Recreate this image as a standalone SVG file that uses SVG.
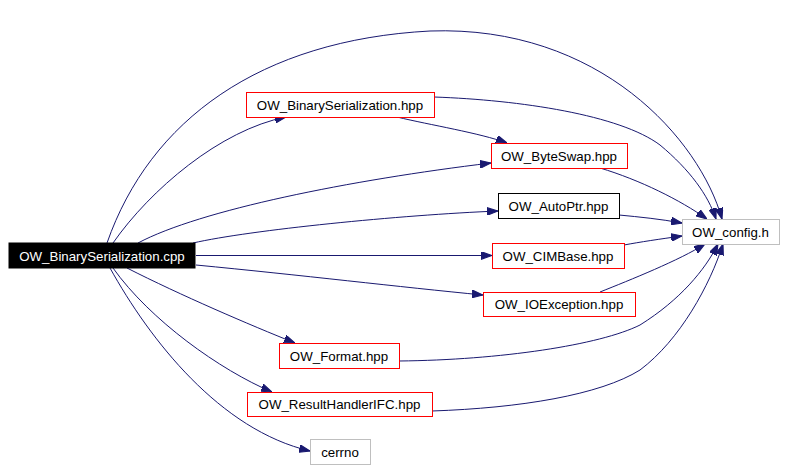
<svg xmlns="http://www.w3.org/2000/svg" width="787" height="469" viewBox="0 0 787 469">
<style>
.n rect{fill:#fff;stroke-width:1}
.red rect{stroke:#ff0000}
.blk rect{stroke:#000}
.gry rect{stroke:#bfbfbf}
text{font-family:"Liberation Sans",Arial,sans-serif;font-size:13.3px;text-anchor:middle;fill:#000}
.e path{fill:none;stroke:#191970;stroke-width:1;marker-end:url(#ah)}
</style>
<defs>
<marker id="ah" viewBox="0 0 10 7" refX="10" refY="3.5" markerWidth="11" markerHeight="8" markerUnits="userSpaceOnUse" orient="auto">
<path d="M0,0 L10,3.5 L0,7 z" fill="#191970" stroke="#191970"/>
</marker>
</defs>
<rect width="787" height="469" fill="#fff"/>
<g class="e" id="edges">
<path d="M107,243 C150,120 260,40 430,31 C600,25 700,140 722,219"/>
<path d="M113,243 C150,190 220,130 286,117"/>
<path d="M138,243 C200,210 350,180 491,163"/>
<path d="M193,243 C250,230 400,215 498,211"/>
<path d="M196,255.5 L492,255.5"/>
<path d="M196,265 C300,275 400,287 483,295"/>
<path d="M127,268 C180,295 250,325 295,343"/>
<path d="M113,268 C150,320 220,370 272,392"/>
<path d="M110,268 C150,340 220,430 310,451"/>
<path d="M397,117 C430,125 480,133 507,143"/>
<path d="M434,97 C520,100 620,115 660,145 C690,170 708,195 716,219"/>
<path d="M600,168 C640,180 680,200 707,219"/>
<path d="M619,215 C640,217 660,219 682,223"/>
<path d="M624,245 C640,242 660,239 682,236"/>
<path d="M600,292 C630,280 680,260 705,244"/>
<path d="M399,361 C500,360 600,345 640,325 C680,300 705,270 718,244"/>
<path d="M432,411 C520,408 600,395 640,370 C680,340 710,285 723,244"/>
</g>
<g id="n_cpp"><rect x="9" y="243" width="186" height="25" fill="#000" stroke="#000"/><text x="102" y="260.5" style="fill:#fff">OW_BinarySerialization.cpp</text></g>
<g id="n_hpp" class="n red"><rect x="246.5" y="92.5" width="188" height="25"/><text x="340" y="109.5">OW_BinarySerialization.hpp</text></g>
<g id="n_byteswap" class="n red"><rect x="491.5" y="143.5" width="136" height="25"/><text x="559" y="160.5">OW_ByteSwap.hpp</text></g>
<g id="n_autoptr" class="n blk"><rect x="498.5" y="193.5" width="121" height="25"/><text x="558.5" y="210.5">OW_AutoPtr.hpp</text></g>
<g id="n_config" class="n gry"><rect x="682.5" y="219.5" width="97" height="25"/><text x="730.5" y="236.5">OW_config.h</text></g>
<g id="n_cimbase" class="n red"><rect x="492.5" y="243.5" width="132" height="25"/><text x="558" y="260.5">OW_CIMBase.hpp</text></g>
<g id="n_ioexc" class="n red"><rect x="483.5" y="292.5" width="152" height="24"/><text x="559" y="309">OW_IOException.hpp</text></g>
<g id="n_format" class="n red"><rect x="279.5" y="343.5" width="120" height="25"/><text x="339" y="360.5">OW_Format.hpp</text></g>
<g id="n_rh" class="n red"><rect x="247.5" y="392.5" width="185" height="24"/><text x="339.5" y="409">OW_ResultHandlerIFC.hpp</text></g>
<g id="n_cerrno" class="n gry"><rect x="310.5" y="439.5" width="60" height="25"/><text x="340" y="456.5">cerrno</text></g>
</svg>
